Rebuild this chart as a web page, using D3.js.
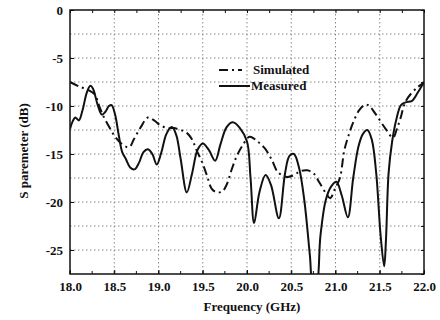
<!DOCTYPE html>
<html>
<head>
<meta charset="utf-8">
<script src="https://cdn.jsdelivr.net/npm/d3@7"></script>
<style>
  html,body{margin:0;padding:0;background:#fff;}
  svg{display:block;}
  text{font-family:"Liberation Serif","Times New Roman",serif;font-weight:bold;fill:#111;}
</style>
</head>
<body>
<svg width="440" height="320"></svg>
<script>
// ---------- data ----------
const measFreq = [18.00,18.03,18.06,18.10,18.14,18.19,18.23,18.26,18.31,18.36,18.40,18.44,18.47,18.51,18.55,18.59,18.63,18.68,18.73,18.78,
  18.83,18.88,18.93,18.98,19.03,19.09,19.15,19.20,19.25,19.32,19.38,19.44,19.50,19.57,19.64,19.70,19.77,19.84,19.92,20.00,
  20.04,20.08,20.14,20.21,20.27,20.36,20.43,20.48,20.53,20.59,20.65,20.71,20.75,20.78,20.83,20.89,20.95,21.01,21.07,21.14,
  21.20,21.26,21.31,21.36,21.41,21.46,21.51,21.55,21.57,21.60,21.64,21.69,21.74,21.80,21.86,21.93,22.00];
const measDb = [-12.4,-11.6,-11.2,-11.5,-10.5,-8.6,-7.9,-8.2,-9.8,-10.9,-10.6,-10.0,-9.9,-10.9,-13.0,-14.8,-15.5,-16.4,-16.6,-15.9,
  -14.8,-14.5,-15.0,-16.1,-14.9,-12.9,-12.2,-13.0,-15.5,-19.0,-17.0,-14.6,-13.9,-14.6,-15.7,-14.0,-12.2,-11.7,-12.3,-13.7,
  -17.5,-22.2,-19.0,-17.2,-18.2,-21.7,-17.0,-15.2,-15.0,-16.5,-20.0,-25.5,-29.0,-29.0,-23.5,-19.8,-18.4,-17.9,-19.3,-21.6,
  -17.5,-14.2,-12.9,-12.5,-13.5,-17.0,-23.5,-26.7,-24.0,-17.0,-13.7,-11.3,-9.9,-9.6,-9.5,-8.6,-7.5];

const simFreq = [18.00,18.11,18.20,18.28,18.33,18.38,18.45,18.51,18.58,18.65,18.68,18.72,18.80,18.88,18.95,19.02,19.10,19.17,19.25,19.32,
  19.38,19.43,19.49,19.55,19.60,19.66,19.72,19.77,19.82,19.88,19.95,20.03,20.12,20.20,20.28,20.35,20.45,20.53,20.60,20.68,
  20.75,20.82,20.90,20.94,21.00,21.05,21.10,21.15,21.20,21.27,21.33,21.37,21.45,21.56,21.65,21.69,21.73,21.80,21.92,22.00];
const simDb = [-7.5,-8.0,-8.3,-8.8,-10.0,-11.1,-12.3,-13.2,-13.9,-14.3,-14.2,-13.5,-12.2,-11.2,-11.5,-12.0,-12.3,-12.3,-12.5,-12.8,
  -13.5,-14.6,-15.8,-17.3,-18.6,-19.0,-18.9,-18.2,-16.8,-15.3,-14.1,-13.2,-13.7,-14.4,-15.6,-16.9,-17.4,-17.2,-16.8,-16.7,
  -17.0,-18.0,-19.2,-19.6,-18.5,-17.5,-14.6,-13.0,-11.7,-10.4,-9.9,-9.9,-10.8,-12.3,-13.3,-12.5,-11.4,-9.4,-8.1,-7.6];

const xTicks = [18.0,18.5,19.0,19.5,20.0,20.5,21.0,21.5,22.0];
const yTicks = [0,-5,-10,-15,-20,-25];
const yGrid  = [-2.5,-5,-7.5,-10,-12.5,-15,-17.5,-20,-22.5,-25];
const series = [
  { name:"Simulated", freq:simFreq,  db:simDb,  dash:"9,4,2,4" },
  { name:"Measured",  freq:measFreq, db:measDb, dash:null }
];

// ---------- layout ----------
const M = { l:70, t:10, r:16, b:46 };
const W = 440, H = 320;
const svg = d3.select("svg");
const x = d3.scaleLinear().domain([18,22]).range([M.l, W-M.r]);
const y = d3.scaleLinear().domain([-27.5,0]).range([H-M.b, M.t]);

svg.append("defs").append("clipPath").attr("id","plot")
  .append("rect").attr("x",M.l).attr("y",M.t).attr("width",W-M.l-M.r).attr("height",H-M.t-M.b);

// grid
const grid = svg.append("g").attr("stroke","#888").attr("stroke-width",1).attr("stroke-dasharray","1.5,2.5");
grid.selectAll(".gx").data(xTicks.slice(1,-1)).join("line")
  .attr("x1",d=>x(d)).attr("x2",d=>x(d)).attr("y1",M.t).attr("y2",H-M.b);
grid.selectAll(".gy").data(yGrid).join("line")
  .attr("y1",d=>y(d)).attr("y2",d=>y(d)).attr("x1",M.l).attr("x2",W-M.r);

// ---------- curves ----------
const line = d3.line().x(d=>x(d[0])).y(d=>y(d[1])).curve(d3.curveCatmullRom.alpha(0.5));
const curves = svg.append("g").attr("clip-path","url(#plot)");
series.forEach(s=>{
  curves.append("path").datum(s.freq.map((f,i)=>[f,s.db[i]]))
    .attr("d",line).attr("fill","none").attr("stroke","#111").attr("stroke-width",2)
    .attr("stroke-dasharray",s.dash);
});

// ---------- axes ----------
const xMinor = d3.range(18,22.001,0.25);
const yMinor = d3.range(-27.5,0.001,2.5);
const axBottom = svg.append("g").attr("transform",`translate(0,${H-M.b})`)
  .call(d3.axisBottom(x).tickValues(xTicks).tickFormat(d3.format(".1f")).tickSize(-4).tickPadding(8));
const axTop = svg.append("g").attr("transform",`translate(0,${M.t})`)
  .call(d3.axisTop(x).tickValues(xMinor).tickFormat("").tickSize(-3));
const axLeft = svg.append("g").attr("transform",`translate(${M.l},0)`)
  .call(d3.axisLeft(y).tickValues(yTicks).tickFormat(d=>String(d)).tickSize(-4).tickPadding(7));
const axRight = svg.append("g").attr("transform",`translate(${W-M.r},0)`)
  .call(d3.axisRight(y).tickValues(yMinor).tickFormat("").tickSize(-3));
axBottom.selectAll(".minor").data(xMinor).join("line").attr("class","minor")
  .attr("x1",d=>x(d)).attr("x2",d=>x(d)).attr("y1",0).attr("y2",-3).attr("stroke","#111");
[axBottom,axTop,axLeft,axRight].forEach(a=>{
  a.select(".domain").remove();
  a.selectAll("line").attr("stroke","#111");
  a.selectAll("text").attr("font-size",13).attr("font-family","Liberation Serif, serif").attr("font-weight","bold").attr("fill","#111");
});
svg.append("rect").attr("x",M.l).attr("y",M.t).attr("width",W-M.l-M.r).attr("height",H-M.t-M.b)
  .attr("fill","none").attr("stroke","#111").attr("stroke-width",1.5);

// axis titles
svg.append("text").attr("x",252).attr("y",311).attr("text-anchor","middle").attr("font-size",13)
  .text("Frequency (GHz)");
svg.append("text").attr("transform","translate(28,151) rotate(-90)").attr("text-anchor","middle").attr("font-size",13)
  .text("S paremeter (dB)");

// ---------- legend ----------
const leg = svg.append("g");
series.forEach((s,i)=>{
  const ly = 70 + i*16;
  leg.append("line").attr("x1",219).attr("x2",s.dash?242:250).attr("y1",ly).attr("y2",ly)
    .attr("stroke","#111").attr("stroke-width",2).attr("stroke-dasharray",s.dash);
  leg.append("text").attr("x",s.dash?253:251).attr("y",ly+4).attr("font-size",13).text(s.name);
});
</script>
</body>
</html>
